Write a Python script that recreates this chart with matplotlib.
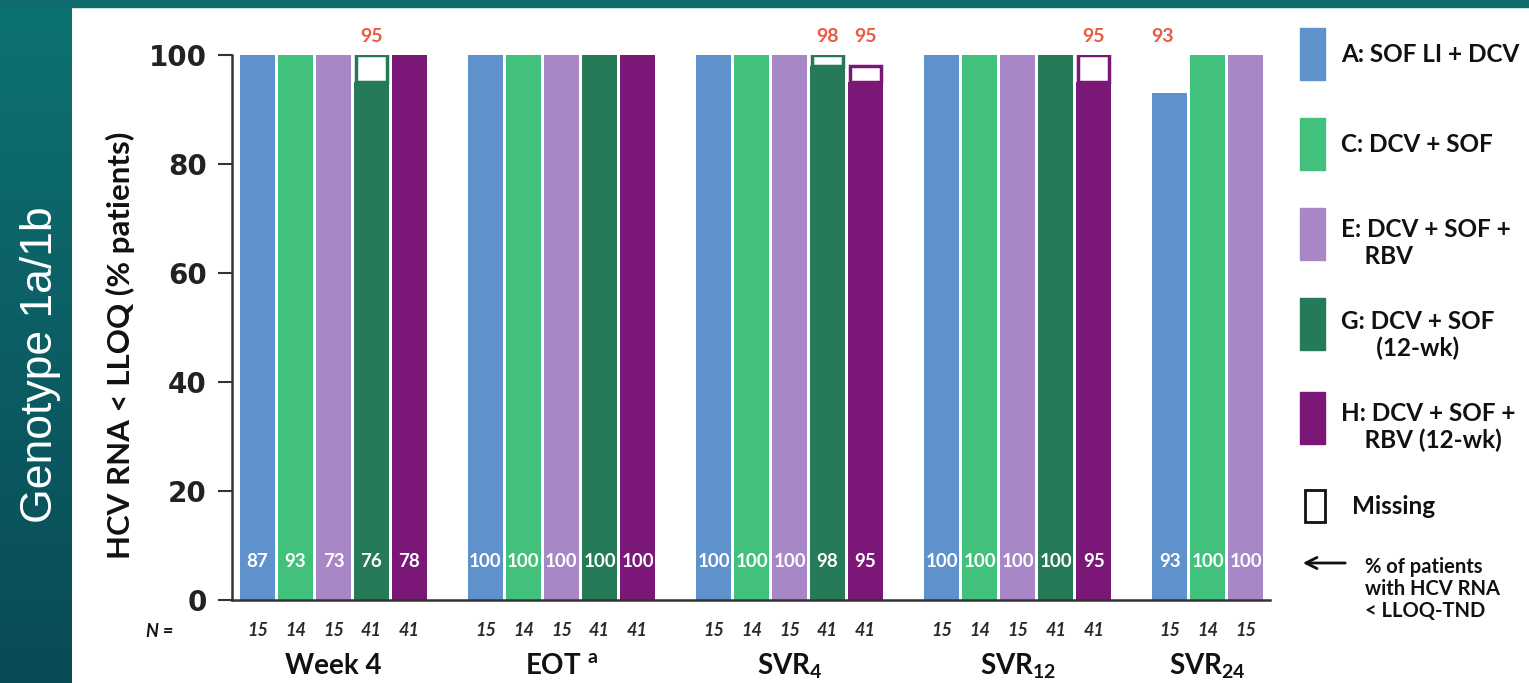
# HCV RNA < LLOQ per arm and timepoint, genotype 1a/1b.
import numpy as np
import matplotlib.pyplot as plt
import matplotlib.patches as mpatches
from matplotlib.colors import LinearSegmentedColormap

plt.rcParams['font.family'] = ['Lato', 'DejaVu Sans']
plt.rcParams['mathtext.fontset'] = 'custom'
plt.rcParams['mathtext.rm'] = 'Lato:bold'
plt.rcParams['mathtext.it'] = 'Lato:bold:italic'
plt.rcParams['mathtext.bf'] = 'Lato:bold'

# Data
group_labels = ['Week 4', r'EOT $^{\mathrm{a}}$', r'SVR$_{4}$', r'SVR$_{12}$', r'SVR$_{24}$']
arms = ['A: SOF LI + DCV', 'C: DCV + SOF', 'E: DCV + SOF +\n    RBV',
        'G: DCV + SOF\n      (12-wk)', 'H: DCV + SOF +\n    RBV (12-wk)']
colors = ['#5f92cc', '#41c17b', '#a887c7', '#257a57', '#7b1877']

# responders (bar height), missing (white box on top), % < LLOQ-TND (inside), N
filled = [[100, 100, 100, 95, 100],
          [100, 100, 100, 100, 100],
          [100, 100, 100, 98, 95],
          [100, 100, 100, 100, 95],
          [93, 100, 100]]
missing = [[0, 0, 0, 5, 0],
           [0, 0, 0, 0, 0],
           [0, 0, 0, 2, 3],
           [0, 0, 0, 0, 5],
           [0, 0, 0]]
tnd = [[87, 93, 73, 76, 78],
       [100, 100, 100, 100, 100],
       [100, 100, 100, 98, 95],
       [100, 100, 100, 100, 95],
       [93, 100, 100]]
n_pat = [[15, 14, 15, 41, 41],
         [15, 14, 15, 41, 41],
         [15, 14, 15, 41, 41],
         [15, 14, 15, 41, 41],
         [15, 14, 15]]

W, H = 1529, 683
fig = plt.figure(figsize=(W / 100, H / 100), dpi=100)
fig.patch.set_facecolor('white')

# teal side panel with a soft gradient, plus strip on top
bg = fig.add_axes([0, 0, 72 / W, 1])
grad = np.linspace(0, 1, 256).reshape(-1, 1)
teal = LinearSegmentedColormap.from_list('teal', ['#0e7272', '#094b56'])
bg.imshow(grad, aspect='auto', cmap=teal, extent=[0, 1, 0, 1], origin='upper')
bg.axis('off')
fig.patches.append(mpatches.Rectangle((0, 1 - 7 / H), 1, 7 / H, transform=fig.transFigure,
                                      color='#0e6c6e', zorder=0))
fig.text(41 / W, 1 - 365 / H, 'Genotype 1a/1b', rotation=90, color='white',
         fontsize=32, family='Liberation Sans', ha='center', va='center')

ax = fig.add_axes([232 / W, 1 - 600 / H, 1038 / W, 545 / H])

for g in range(len(filled)):
    for i in range(len(filled[g])):
        x = 6 * g + i
        ax.bar(x, filled[g][i], width=0.92, color=colors[i], zorder=2)
        if missing[g][i] > 0:
            ax.bar(x, missing[g][i], bottom=filled[g][i], width=0.80, color='white',
                   edgecolor=colors[i], linewidth=2.5, zorder=3)
        if filled[g][i] < 100:
            dx = -0.2 if g == 4 else 0
            ax.text(x + dx, 103.4, str(filled[g][i]), color='#ea5a40', fontsize=14,
                    fontweight='bold', ha='center', va='center', clip_on=False)
        ax.text(x, 7, str(tnd[g][i]), color='white', fontsize=13.5, fontweight='bold',
                ha='center', va='center', zorder=4)
        ax.text(x, -5.6, str(n_pat[g][i]), color='#2a2a2a', fontsize=13, style='italic',
                fontweight='bold', ha='center', va='center', clip_on=False)
    xc = 6 * g + (len(filled[g]) - 1) / 2
    ax.text(xc, -12.2, group_labels[g], fontsize=20, fontweight='bold', color='#111111',
            ha='center', va='center', clip_on=False)

ax.text(-2.57, -5.8, 'N =', fontsize=13, fontweight='bold', style='italic',
        color='#111111', ha='center', va='center', clip_on=False)

ax.set_xlim(-0.67, 26.64)
ax.set_ylim(0, 100)
ax.set_xticks([])
ax.set_yticks([0, 20, 40, 60, 80, 100])
ax.tick_params(axis='y', length=10, width=1.5, labelsize=20, pad=8, color='#333333',
               labelcolor='#222222')
for lab in ax.get_yticklabels():
    lab.set_family('DejaVu Sans')
    lab.set_fontweight('bold')
for s in ['top', 'right']:
    ax.spines[s].set_visible(False)
for s in ['left', 'bottom']:
    ax.spines[s].set_linewidth(1.8)
    ax.spines[s].set_color('#333333')

fig.text(120 / W, 1 - 345 / H, 'HCV RNA < LLOQ (% patients)', rotation=90,
         fontsize=22.5, fontweight='bold', color='#111111', ha='center', va='center')

# legend on the right
legend_rows = [(54, 55), (144, 145), (234, 243), (324, 335), (418, 427)]
for i, (pc, ty) in enumerate(legend_rows):
    fig.patches.append(mpatches.Rectangle((1300 / W, 1 - (pc + 26) / H), 25 / W, 52 / H,
                                          transform=fig.transFigure, color=colors[i]))
    fig.text(1341 / W, 1 - ty / H, arms[i], fontsize=17.5, fontweight='bold',
             color='#111111', ha='left', va='center', linespacing=1.2)

fig.patches.append(mpatches.Rectangle((1305 / W, 1 - 522 / H), 20 / W, 32 / H,
                                      transform=fig.transFigure, facecolor='white',
                                      edgecolor='#111111', linewidth=2))
fig.text(1352 / W, 1 - 507 / H, 'Missing', fontsize=17.5, fontweight='bold',
         color='#111111', ha='left', va='center')
fig.patches.append(mpatches.FancyArrowPatch((1348 / W, 1 - 563 / H), (1300 / W, 1 - 563 / H),
                                            transform=fig.transFigure, arrowstyle='->',
                                            mutation_scale=20, linewidth=2, color='#111111'))
fig.text(1365 / W, 1 - 589 / H, '% of patients\nwith HCV RNA\n< LLOQ-TND', fontsize=14.5,
         fontweight='bold', color='#111111', ha='left', va='center', linespacing=1.15)

fig.savefig('out.png', dpi=100)
